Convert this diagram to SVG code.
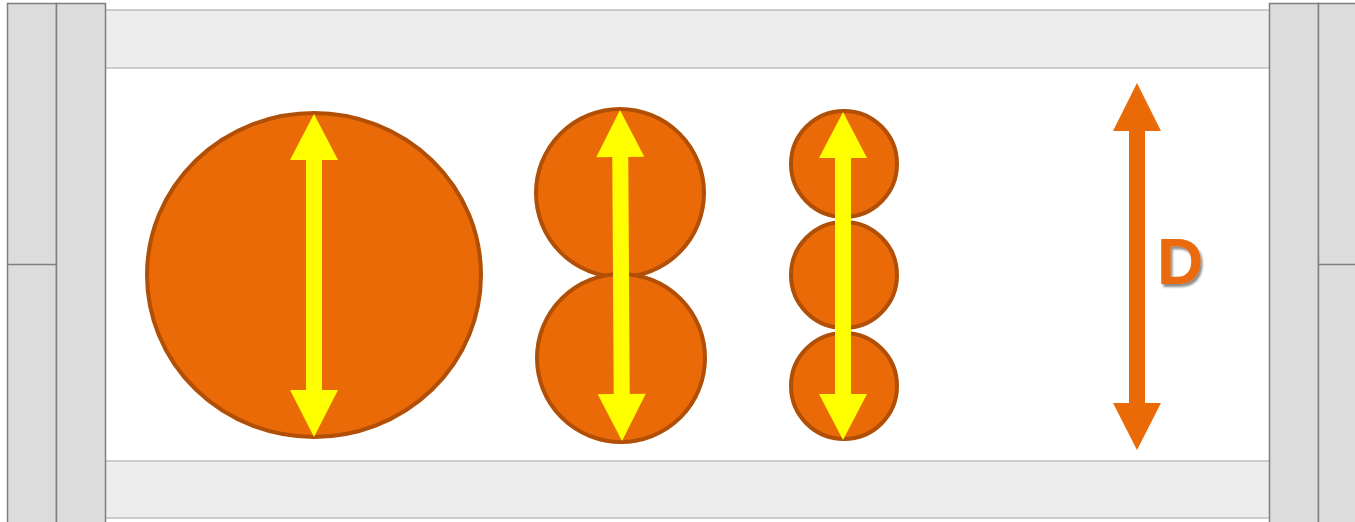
<svg xmlns="http://www.w3.org/2000/svg" width="1355" height="522" viewBox="0 0 1355 522">
<defs>
<style>
.wall{fill:#dcdcdc;stroke:#7f7f7f;stroke-width:1.5}
.band{fill:#ededed;stroke:#bfbfbf;stroke-width:1.5}
.ball{fill:#ea6a08;stroke:#b04f05;stroke-width:4}
.ya{fill:#ffff00}
.oa{fill:#ea6a08}
.lbl{font-family:"Liberation Sans",Arial,sans-serif;font-weight:bold;font-size:64px}
</style>
<filter id="sh" x="-20%" y="-20%" width="150%" height="150%">
<feGaussianBlur in="SourceAlpha" stdDeviation="1"/>
<feOffset dx="2" dy="3"/>
<feComponentTransfer><feFuncA type="linear" slope="0.45"/></feComponentTransfer>
<feMerge><feMergeNode/><feMergeNode in="SourceGraphic"/></feMerge>
</filter>
</defs>
<rect width="1355" height="522" fill="#ffffff"/>
<g id="bands">
<rect class="band" x="100" y="10" width="1175" height="58"/>
<rect class="band" x="100" y="461" width="1175" height="57"/>
</g>
<g id="left-wall">
<rect class="wall" x="7.5" y="3.5" width="49" height="530"/>
<line x1="7.5" y1="264.5" x2="56.5" y2="264.5" stroke="#7f7f7f" stroke-width="1.5"/>
<rect class="wall" x="56.5" y="3.5" width="49" height="530"/>
</g>
<g id="right-wall">
<rect class="wall" x="1269.5" y="3.5" width="49" height="530"/>
<rect class="wall" x="1318.5" y="3.5" width="49" height="530"/>
<line x1="1318.5" y1="264.5" x2="1360" y2="264.5" stroke="#7f7f7f" stroke-width="1.5"/>
</g>
<g id="big-ball">
<ellipse class="ball" cx="314" cy="275" rx="167" ry="162"/>
</g>
<g id="two-balls">
<circle class="ball" cx="620" cy="193" r="84"/>
<circle class="ball" cx="621" cy="358" r="84"/>
</g>
<g id="three-balls">
<circle class="ball" cx="844" cy="164" r="53"/>
<circle class="ball" cx="844" cy="275" r="53"/>
<circle class="ball" cx="844" cy="386" r="53"/>
</g>
<g id="connectors">
<polygon class="ya" points="314,114 338,160 322,160 322,390 338,390 314,437 290,390 306,390 306,160 290,160"/>
<polygon class="ya" transform="rotate(-0.35 621 275.5)" points="621,110 645,157 629,157 629,394 645,394 621,441 597,394 613,394 613,157 597,157"/>
<polygon class="ya" points="843,112 867,158 851,158 851,394 867,394 843,440 819,394 835,394 835,158 819,158"/>
<polygon class="oa" points="1137,83 1161,131 1145,131 1145,403 1161,403 1137,450 1113,403 1129,403 1129,131 1113,131"/>
</g>
<g id="label-D">
<text class="lbl" x="1157" y="284" fill="#ea6a08" filter="url(#sh)">D</text>
</g>
</svg>
